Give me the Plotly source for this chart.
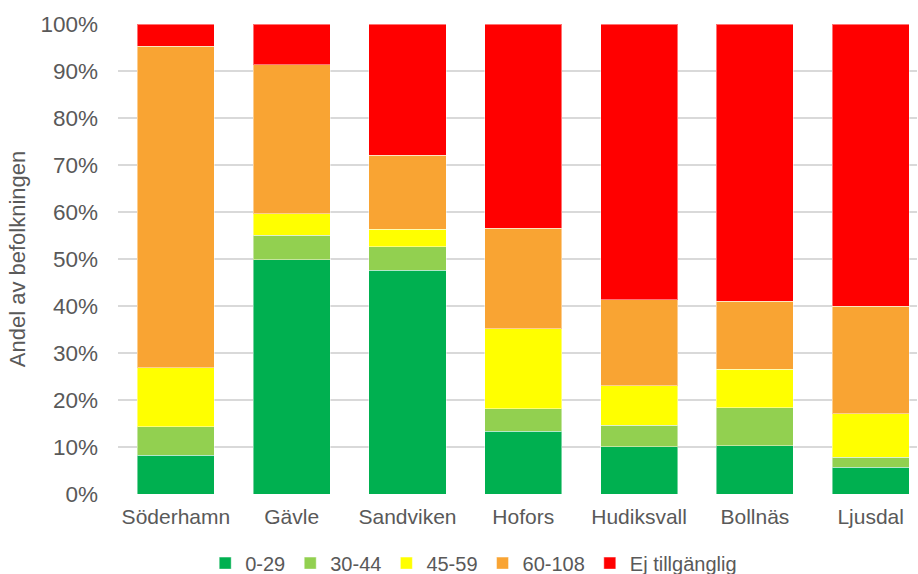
import plotly.graph_objects as go

categories = ["Söderhamn", "Gävle", "Sandviken", "Hofors", "Hudiksvall", "Bollnäs", "Ljusdal"]
series_names = ["0-29", "30-44", "45-59", "60-108", "Ej tillgänglig"]
s_0_29 = [8.2, 49.8, 47.6, 13.4, 10.1, 10.3, 5.7]
s_30_44 = [6.1, 5.3, 5.0, 4.7, 4.5, 8.0, 2.1]
s_45_59 = [12.6, 4.5, 3.7, 17.1, 8.4, 8.2, 9.3]
s_60_108 = [68.4, 31.7, 15.8, 21.3, 18.3, 14.5, 22.8]
s_ej = [4.7, 8.7, 27.9, 43.5, 58.7, 59.0, 60.1]
colors = ["#00B050", "#92D050", "#FFFF00", "#F9A433", "#FF0000"]
y_ticks = [0, 10, 20, 30, 40, 50, 60, 70, 80, 90, 100]

series = [s_0_29, s_30_44, s_45_59, s_60_108, s_ej]

fig = go.Figure()
for name, vals, col in zip(series_names, series, colors):
    fig.add_trace(go.Bar(
        x=categories, y=vals, name=name,
        marker=dict(color=col, line=dict(color="rgba(255,255,255,0.45)", width=1)),
    ))

font = "Liberation Sans, Arial, sans-serif"
fig.update_layout(
    barmode="stack",
    bargap=0.335,
    width=918, height=574,
    margin=dict(l=118, r=1, t=24, b=80),
    paper_bgcolor="white", plot_bgcolor="white",
    font=dict(family=font, size=20, color="#595959"),
    showlegend=True,
    legend=dict(orientation="h", x=0.516, xanchor="center", xref="container",
                y=0.019, yanchor="middle", yref="container",
                traceorder="normal", font=dict(size=20, color="#595959"),
                itemwidth=30, tracegroupgap=0),
    xaxis=dict(range=[-0.5, 6.4], showgrid=False, showline=False, zeroline=False,
               automargin=False,
               ticks="", ticklabelstandoff=8, tickfont=dict(size=21, color="#595959")),
    yaxis=dict(range=[0, 100], tickvals=y_ticks, ticktext=[f"{v}%" for v in y_ticks],
               showgrid=True, gridcolor="#D9D9D9", gridwidth=1.5, zeroline=False,
               automargin=False,
               showline=False, ticks="", ticklen=0, ticklabelstandoff=19,
               tickfont=dict(size=22.5, color="#595959"),
               title=dict(text="Andel av befolkningen", font=dict(size=22, color="#595959"), standoff=8)),
)

fig.write_html("out.html")
